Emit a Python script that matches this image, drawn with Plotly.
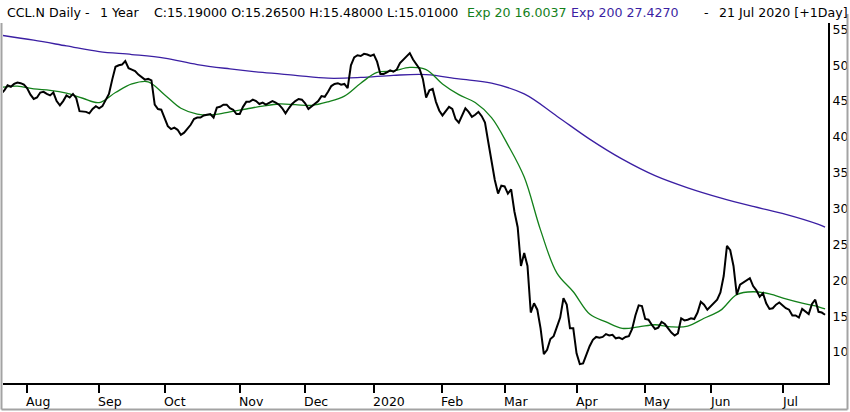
import pandas as pd
import plotly.graph_objects as go

# Pregões de 1 ano até 21 Jul 2020 (dias úteis menos feriados da NYSE)
inicio = '2019-07-22'
fim = '2020-07-21'
feriados = ['2019-09-02', '2019-11-28', '2019-12-25', '2020-01-01', '2020-01-20',
            '2020-02-17', '2020-04-10', '2020-05-25', '2020-07-03']

# Fechamentos diários
fechamento = [
    46.0, 46.5, 47.2, 47.0, 47.4, 47.6, 47.5, 47.3, 46.8, 45.9,
    45.3, 45.5, 46.2, 46.3, 46.0, 45.8, 46.2, 45.0, 44.4, 45.0,
    45.8, 45.5, 46.0, 45.4, 43.6, 43.6, 43.5, 43.3, 43.9, 44.3,
    44.0, 44.3, 45.1, 46.0, 48.0, 49.8, 50.0, 50.1, 50.6, 49.6,
    49.4, 49.2, 48.7, 48.3, 48.0, 48.1, 47.9, 44.5, 43.9, 43.8,
    42.7, 41.5, 41.1, 41.3, 41.0, 40.3, 40.6, 41.1, 41.7, 42.5,
    42.7, 42.7, 43.0, 43.1, 43.2, 42.7, 44.1, 44.2, 44.5, 44.5,
    44.0, 43.8, 43.2, 43.2, 44.2, 44.9, 44.9, 45.2, 45.0, 44.6,
    44.8, 44.5, 44.8, 45.0, 44.8, 44.5, 44.0, 43.3, 44.0, 44.6,
    45.0, 45.3, 45.2, 44.7, 43.9, 44.3, 44.6, 45.0, 45.7, 45.6,
    46.3, 47.1, 47.4, 47.5, 47.3, 47.4, 46.8, 50.0, 51.1, 51.4,
    51.3, 51.6, 51.5, 51.3, 51.5, 50.5, 48.8, 48.8, 49.0, 49.3,
    49.1, 49.4, 50.3, 50.8, 51.2, 51.7, 50.8, 50.1, 49.5, 48.1,
    45.5, 46.5, 46.7, 44.9, 43.7, 43.0, 43.6, 44.2, 43.9, 42.5,
    42.0, 43.0, 44.0, 43.5, 42.8, 43.1, 43.5, 42.9, 42.0, 39.3,
    36.6, 34.0, 32.1, 33.2, 33.1, 32.1, 32.7, 29.6, 27.4, 22.0,
    23.8, 22.0, 15.5, 16.8, 15.9, 13.3, 9.7, 10.3, 11.8, 12.2,
    13.5, 14.8, 17.5, 16.6, 13.3, 13.3, 9.8, 8.3, 8.4, 9.6,
    10.8, 11.7, 12.1, 12.0, 12.1, 12.5, 12.3, 12.4, 11.9, 12.0,
    11.8, 12.1, 12.2, 13.2, 15.1, 16.5, 16.4, 14.6, 14.5, 13.8,
    13.2, 13.4, 14.2, 13.9, 13.3, 12.7, 12.3, 12.6, 14.7, 14.4,
    14.5, 14.7, 14.6, 15.5, 17.0, 16.6, 15.9, 16.4, 16.9, 17.3,
    18.3, 20.6, 24.8, 24.2, 22.0, 18.0, 19.4, 19.7, 20.1, 20.3,
    19.2, 18.6, 17.7, 18.2, 16.8, 16.0, 16.1, 16.6, 16.9, 16.5,
    16.1, 15.9, 15.1, 15.1, 14.8, 16.0, 15.6, 15.3, 16.7, 17.3,
    15.6, 15.5, 15.19,
]

# Médias exponenciais (posição do pregão, valor)
ema20_idx = [0, 5, 10, 15, 20, 25, 30, 35, 40, 45, 50, 55, 60, 65, 70, 75, 80, 85, 90,
             95, 100, 105, 110, 115, 120, 125, 130, 135, 140, 145, 150, 155, 160, 165,
             170, 175, 180, 185, 190, 195, 200, 205, 210, 215, 220, 225, 230, 235, 240,
             245, 250, 252]
ema20 = [46.9, 47.1, 46.7, 46.5, 46.1, 45.4, 44.8, 46.2, 47.4, 47.7, 45.9, 44.0, 43.2,
         43.1, 43.5, 43.9, 44.3, 44.6, 44.5, 44.4, 44.9, 45.7, 47.5, 49.0, 49.2, 49.7,
         49.4, 47.4, 45.9, 44.8, 42.7, 38.9, 34.4, 27.0, 21.0, 18.4, 15.3, 14.2, 13.3,
         13.5, 13.8, 13.5, 13.6, 14.7, 15.8, 18.0, 18.4, 18.1, 17.4, 16.8, 16.3, 16.0037]

ema200_idx = [0, 10, 20, 30, 40, 50, 60, 70, 80, 90, 100, 110, 120, 130, 140, 150, 160,
              170, 180, 190, 200, 210, 220, 230, 240, 250, 252]
ema200 = [54.2, 53.5, 52.7, 51.9, 51.5, 51.0, 50.1, 49.5, 49.0, 48.6, 48.2, 48.3, 48.6,
          48.7, 48.1, 47.5, 46.0, 42.9, 39.7, 36.9, 34.6, 32.9, 31.5, 30.3, 29.2, 27.8,
          27.427]

meses = ['Aug', 'Sep', 'Oct', 'Nov', 'Dec', '2020', 'Feb', 'Mar', 'Apr', 'May', 'Jun', 'Jul']
y_ticks = [10, 15, 20, 25, 30, 35, 40, 45, 50, 55]

# Datas de pregão e primeiro pregão de cada mês
dias = pd.bdate_range(inicio, fim)
dias = dias[~dias.isin(pd.to_datetime(feriados))]
pos = pd.Series(range(len(dias)), index=dias)
inicio_mes = pos.groupby([dias.year, dias.month]).first().values[1:]

VERDE = '#13801a'
ROXO = '#3b1fa3'
FONTE = 'DejaVu Sans'

fig = go.Figure()

fig.add_trace(go.Scatter(x=ema200_idx, y=ema200, mode='lines',
                         line=dict(color=ROXO, width=1.3, shape='spline'), name='Exp 200'))
fig.add_trace(go.Scatter(x=ema20_idx, y=ema20, mode='lines',
                         line=dict(color=VERDE, width=1.3, shape='spline'), name='Exp 20'))
fig.add_trace(go.Scatter(x=list(range(len(fechamento))), y=fechamento, mode='lines',
                         line=dict(color='black', width=2), name='CCL.N'))

# Converte pixel da imagem para coordenada "paper"
L, R, T, B = 3, 828, 23, 383
def px(x):
    return (x - L) / (R - L)
def py(y):
    return (B - y) / (B - T)

# Cabeçalho
cabecalho = [
    ('CCL.N Daily -', 5, 'black'),
    ('1 Year', 98, 'black'),
    ('C:15.19000 O:15.26500 H:15.48000 L:15.01000', 152, 'black'),
    ('Exp 20 16.0037', 465, VERDE),
    ('Exp 200 27.4270', 569, ROXO),
    ('-', 702, 'black'),
    ('21 Jul 2020 [+1Day]', 717, 'black'),
]
for texto, x, cor in cabecalho:
    fig.add_annotation(text=texto, xref='paper', yref='paper', x=px(x), y=py(12.5),
                       xanchor='left', yanchor='middle', showarrow=False,
                       font=dict(family=FONTE, size=12.6, color=cor))

# Rótulos dos meses à direita de cada marca
for m, i in zip(meses, inicio_mes):
    fig.add_annotation(text=m, xref='x', yref='paper', x=i, y=py(401),
                       xanchor='left', yanchor='middle', showarrow=False, xshift=-3,
                       font=dict(family=FONTE, size=12.5, color='black'))

# Moldura cinza externa
cinza = '#a3a3a3'
fig.add_shape(type='line', xref='paper', yref='paper', x0=px(1.5), x1=px(1.5),
              y0=py(409.5), y1=py(23), line=dict(color=cinza, width=2))
fig.add_shape(type='line', xref='paper', yref='paper', x0=px(1.5), x1=px(847.5),
              y0=py(409.5), y1=py(409.5), line=dict(color=cinza, width=2))
fig.add_shape(type='line', xref='paper', yref='paper', x0=px(847.5), x1=px(847.5),
              y0=py(409.5), y1=py(14), line=dict(color=cinza, width=2))

fig.update_layout(
    width=850,
    height=412,
    margin=dict(l=L, r=850 - R, t=T, b=412 - B, pad=0),
    paper_bgcolor='white',
    plot_bgcolor='white',
    showlegend=False,
    font=dict(family=FONTE, size=12.5, color='black'),
    xaxis=dict(
        range=[0.6, 252.9],
        tickvals=list(inicio_mes),
        showticklabels=False,
        ticks='outside',
        ticklen=8,
        tickwidth=2,
        tickcolor='black',
        showline=True,
        linecolor='black',
        linewidth=2,
        showgrid=False,
        zeroline=False,
    ),
    yaxis=dict(
        range=[5.67, 55.9],
        side='right',
        tickvals=y_ticks,
        ticks='',
        showline=True,
        linecolor='black',
        linewidth=2,
        showgrid=False,
        zeroline=False,
        tickfont=dict(family=FONTE, size=12.5),
    ),
)

# Tira a margem padrão da página e a barra de ferramentas
fig.write_html('out.html', config={'displayModeBar': False},
               post_script="document.body.style.margin='0';")
